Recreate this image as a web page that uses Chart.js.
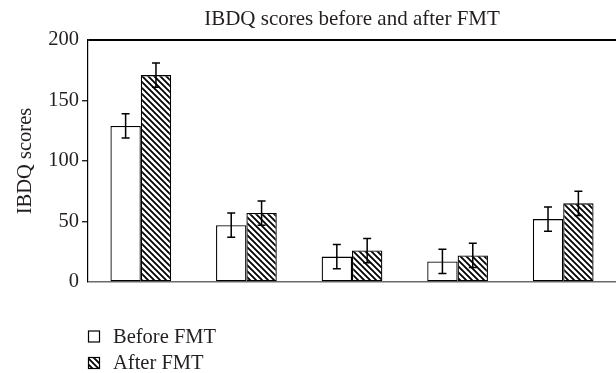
<!DOCTYPE html>
<html>
<head>
<meta charset="utf-8">
<script src="https://cdn.jsdelivr.net/npm/chart.js@4/dist/chart.umd.min.js"></script>
<style>
  html, body { margin: 0; padding: 0; background: #fff; }
  canvas { display: block; }
</style>
</head>
<body>
<canvas id="chart" width="616" height="373"></canvas>
<script>
// IBDQ scores per group, before and after FMT (mean ± error)
const groups = ['1', '2', '3', '4', '5'];
const beforeFMT = [129, 47, 21, 17, 52];
const afterFMT = [171, 57, 26, 22, 65];
const beforeErr = [10, 10, 10, 10, 10];
const afterErr = [10, 10, 10, 10, 10];
const yTicks = [0, 50, 100, 150, 200];

const FONT = "'Liberation Serif', 'Times New Roman', serif";
const INK = '#231f20';

// Diagonal "\" hatch tile
function makeHatch() {
  const s = 6;
  const c = document.createElement('canvas');
  c.width = s; c.height = s;
  const g = c.getContext('2d');
  g.fillStyle = '#fff';
  g.fillRect(0, 0, s, s);
  g.strokeStyle = '#000';
  g.lineWidth = 1.8;
  g.beginPath();
  g.moveTo(-1, -1); g.lineTo(s + 1, s + 1);
  g.moveTo(-1, s - 1); g.lineTo(1, s + 1);
  g.moveTo(s - 1, -1); g.lineTo(s + 1, 1);
  g.stroke();
  return g.createPattern(c, 'repeat');
}

const ctx = document.getElementById('chart').getContext('2d');
const hatch = makeHatch();

// Error bars drawn from the error arrays via the y scale
const errorBars = {
  id: 'errorBars',
  afterDatasetsDraw(chart) {
    const y = chart.scales.y;
    const c = chart.ctx;
    c.save();
    c.strokeStyle = '#000';
    c.lineWidth = 1.5;
    chart.data.datasets.forEach((ds, di) => {
      const meta = chart.getDatasetMeta(di);
      meta.data.forEach((bar, i) => {
        const v = ds.data[i], e = ds.errors[i];
        const top = y.getPixelForValue(v + e);
        const bot = y.getPixelForValue(v - e);
        const x = bar.x, w = 4;
        c.beginPath();
        c.moveTo(x, top); c.lineTo(x, bot);
        c.moveTo(x - w, top); c.lineTo(x + w, top);
        c.moveTo(x - w, bot); c.lineTo(x + w, bot);
        c.stroke();
      });
    });
    c.restore();
  }
};

// Stacked legend under the plot
const stackedLegend = {
  id: 'stackedLegend',
  afterDraw(chart) {
    const c = chart.ctx;
    c.save();
    c.font = '20.5px ' + FONT;
    c.textBaseline = 'alphabetic';
    chart.data.datasets.forEach((ds, i) => {
      const base = 342.5 + i * 26.5;
      const bx = 88.5, by = base - 11.5, bs = 11;
      c.fillStyle = ds.backgroundColor;
      c.fillRect(bx, by, bs, bs);
      c.strokeStyle = '#000';
      c.lineWidth = 1.2;
      c.strokeRect(bx, by, bs, bs);
      c.fillStyle = INK;
      c.fillText(ds.label, 113, base);
    });
    c.restore();
  }
};

new Chart(ctx, {
  type: 'bar',
  data: {
    labels: groups,
    datasets: [
      {
        label: 'Before FMT',
        data: beforeFMT,
        errors: beforeErr,
        backgroundColor: '#ffffff',
        borderColor: '#000',
        borderWidth: 1.3,
        borderSkipped: false
      },
      {
        label: 'After FMT',
        data: afterFMT,
        errors: afterErr,
        backgroundColor: hatch,
        borderColor: '#000',
        borderWidth: 1.3,
        borderSkipped: false
      }
    ]
  },
  options: {
    responsive: false,
    animation: false,
    layout: { padding: { top: 0, left: 0, right: 0, bottom: 91 } },
    datasets: {
      bar: { categoryPercentage: 0.575, barPercentage: 1.0 }
    },
    plugins: {
      legend: { display: false },
      tooltip: { enabled: false },
      title: {
        display: true,
        fullSize: false,
        text: 'IBDQ scores before and after FMT',
        color: INK,
        font: { family: FONT, size: 21, weight: 'normal', lineHeight: 1.2 },
        padding: { top: 7, bottom: 7.8 }
      }
    },
    scales: {
      x: {
        display: false,
        offset: true
      },
      y: {
        min: 0,
        max: 200,
        afterFit(scale) { scale.width = 88; },
        afterBuildTicks(scale) { scale.ticks = yTicks.map(v => ({ value: v })); },
        ticks: {
          color: INK,
          font: { family: FONT, size: 20.5 },
          padding: 3
        },
        grid: {
          drawTicks: true,
          tickLength: 6,
          color: (c) => c.tick && c.tick.value === 200 ? '#000'
                      : c.tick && c.tick.value === 0 ? '#6a6a6a' : 'rgba(0,0,0,0)',
          lineWidth: (c) => c.tick && c.tick.value === 200 ? 2 : 1.5,
          tickColor: (c) => c.tick && (c.tick.value === 0 || c.tick.value === 200) ? 'rgba(0,0,0,0)' : '#000',
          tickWidth: 1.2
        },
        border: { display: true, color: '#000', width: 1.2 },
        title: {
          display: true,
          text: 'IBDQ scores',
          color: INK,
          font: { family: FONT, size: 20.5 },
          padding: { top: 13, bottom: 0 }
        }
      }
    }
  },
  plugins: [errorBars, stackedLegend]
});
</script>
</body>
</html>
